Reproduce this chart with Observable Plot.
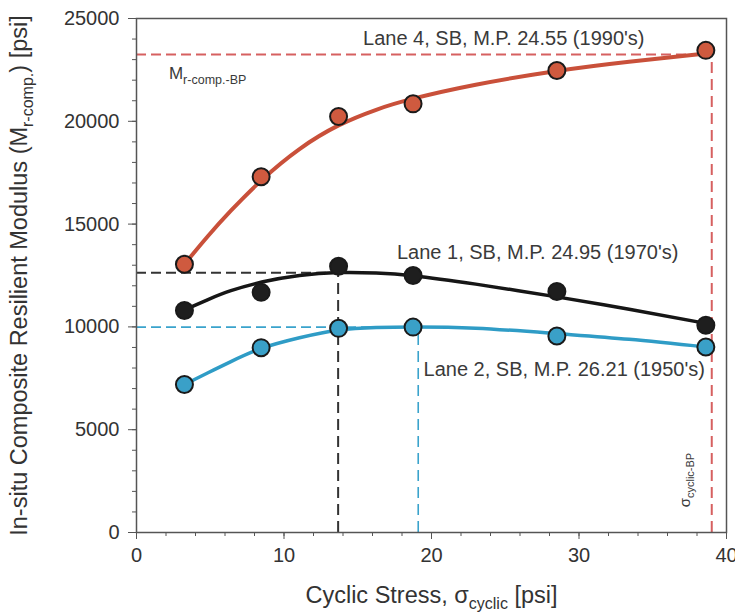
<!DOCTYPE html>
<html><head><meta charset="utf-8">
<script src="https://cdn.jsdelivr.net/npm/d3@7"></script>
<script src="https://cdn.jsdelivr.net/npm/@observablehq/plot@0.6"></script>
<style>body{margin:0;background:#fff;} svg{display:block}</style>
</head><body><div id="chart"></div>
<script>
// measured test points (cyclic stress, psi)
const stress = [3.25, 8.45, 13.7, 18.75, 28.5, 38.6];
const lane4Points = [13050, 17300, 20230, 20850, 22470, 23450];
const lane1Points = [10800, 11680, 12950, 12500, 11720, 10080];
const lane2Points = [7200, 8990, 9930, 9990, 9560, 9020];

// fitted curves
const curveX  = [3.25, 4.85, 6.4, 8.5, 11.05, 13.7, 16.25, 18.75, 23, 28.5, 33.4, 38.6];
const lane4Curve = [13050, 14420, 15650, 17150, 18650, 19800, 20560, 21100, 21780, 22450, 22900, 23300];
const lane1Curve = [10830, 11330, 11760, 12180, 12500, 12640, 12620, 12490, 12080, 11460, 10860, 10170];
const lane2Curve = [7200, 7770, 8310, 8960, 9470, 9850, 9975, 10000, 9940, 9675, 9400, 9025];

// break-point guide lines
const guideLanes = ["Lane 1", "Lane 2", "Lane 4"];
const guideStress = [13.67, 19.1, 39.0];
const guideModulus = [12630, 9990, 23250];

const laneNames = ["Lane 4", "Lane 1", "Lane 2"];
const laneLabels = ["Lane 4, SB, M.P. 24.55 (1990's)", "Lane 1, SB, M.P. 24.95 (1970's)", "Lane 2, SB, M.P. 26.21 (1950's)"];
const labelX = [24.9, 27.2, 29.0];
const labelY = [24030, 13630, 7930];

const xTicks = [0, 10, 20, 30, 40];
const yTicks = [0, 5000, 10000, 15000, 20000, 25000];
const xMinor = d3.range(0, 41, 2);
const yMinor = d3.range(0, 25001, 1000);

const colors = {
  "Lane 4": {line: "#c9503a", fill: "#cf5a3f", guide: "#d66060"},
  "Lane 1": {line: "#161616", fill: "#1e1e1e", guide: "#333333"},
  "Lane 2": {line: "#2f9cc6", fill: "#3aa0c8", guide: "#3aa3cc"}
};

const seriesPts = {"Lane 4": lane4Points, "Lane 1": lane1Points, "Lane 2": lane2Points};
const seriesCurve = {"Lane 4": lane4Curve, "Lane 1": lane1Curve, "Lane 2": lane2Curve};

const points = laneNames.flatMap(l => stress.map((x, i) => ({lane: l, x, y: seriesPts[l][i]})));
const curves = laneNames.flatMap(l => curveX.map((x, i) => ({lane: l, x, y: seriesCurve[l][i]})));
const guides = guideLanes.map((l, i) => ({lane: l, x: guideStress[i], y: guideModulus[i]}));
const labels = laneNames.map((l, i) => ({lane: l, text: laneLabels[i], x: labelX[i], y: labelY[i]}));

const bpLabels = [
  {text: "Mr-comp.-BP", x: 2.2, y: 22330},
  {text: "σcyclic-BP", x: 37.2, y: 2550}
];

const yLabel = "In-situ Composite Resilient Modulus (Mr-comp.) [psi]";
const xLabel = "Cyclic Stress, σcyclic [psi]";

const richParts = [
  {plain: yLabel, size: 23.5, parts: [["In-situ Composite Resilient Modulus (M", 0], ["r-comp.", 1], [") [psi]", 0]], sub: 16, shift: 6},
  {plain: xLabel, size: 23.5, parts: [["Cyclic Stress, σ", 0], ["cyclic", 1], [" [psi]", 0]], sub: 16, shift: 6},
  {plain: "Mr-comp.-BP", parts: [["M", 0], ["r-comp.-BP", 1]], sub: 12.5, shift: 5},
  {plain: "σcyclic-BP", parts: [["σ", 0], ["cyclic-BP", 1]], sub: 11, shift: 4}
];

const marks = [];
for (const g of guides) {
  const c = colors[g.lane].guide;
  const sw = g.lane === "Lane 2" ? 1.6 : 2;
  marks.push(Plot.ruleY([g], {y: "y", x1: 0, x2: "x", stroke: c, strokeWidth: sw, strokeDasharray: "10,5"}));
  marks.push(Plot.ruleX([g], {x: "x", y1: 0, y2: "y", stroke: c, strokeWidth: sw, strokeDasharray: "11,6"}));
}
for (const l of laneNames) {
  marks.push(Plot.line(curves.filter(d => d.lane === l), {x: "x", y: "y", stroke: colors[l].line, strokeWidth: l === "Lane 4" ? 4 : 3.5, curve: "natural"}));
}
for (const l of laneNames) {
  marks.push(Plot.dot(points.filter(d => d.lane === l), {x: "x", y: "y", r: 8.5, fill: colors[l].fill, stroke: "#1a1a1a", strokeWidth: 2}));
}
marks.push(Plot.text(labels, {x: "x", y: "y", text: "text", fontSize: 20, fill: "#3a3a3a", textAnchor: "middle", lineAnchor: "middle"}));
marks.push(Plot.text([bpLabels[0]], {x: "x", y: "y", text: "text", fontSize: 17, fill: "#3a3a3a", textAnchor: "start", lineAnchor: "middle"}));
marks.push(Plot.text([bpLabels[1]], {x: "x", y: "y", text: "text", fontSize: 15, fill: "#3a3a3a", textAnchor: "middle", lineAnchor: "middle", rotate: -90}));
marks.push(Plot.frame({stroke: "#555", strokeWidth: 1.5}));
marks.push(Plot.axisY({ticks: yMinor, tickSize: 4, tickFormat: () => "", label: null, stroke: "#555"}));
marks.push(Plot.axisY({ticks: yTicks, tickSize: 8, tickPadding: 9, tickFormat: "d", fontSize: 20, label: yLabel, labelAnchor: "center", labelOffset: 126, labelArrow: "none", stroke: "#555"}));
marks.push(Plot.axisX({ticks: xMinor, tickSize: 4, tickFormat: () => "", label: null, stroke: "#555"}));
marks.push(Plot.axisX({ticks: xTicks, tickSize: 7, tickPadding: 8, tickFormat: "d", fontSize: 20, label: xLabel, labelAnchor: "center", labelOffset: 70, labelArrow: "none", stroke: "#555"}));

const chart = Plot.plot({
  width: 735, height: 614,
  marginTop: 18, marginRight: 9, marginBottom: 82, marginLeft: 136,
  x: {domain: [0, 40]},
  y: {domain: [0, 25000]},
  style: {fontFamily: "'Liberation Sans', Arial, sans-serif", fontSize: "20px", color: "#333", background: "#fff"},
  marks
});

const NS = "http://www.w3.org/2000/svg";
for (const r of richParts) {
  chart.querySelectorAll("text").forEach(t => {
    if (t.textContent === r.plain) {
      t.textContent = "";
      if (r.size) t.setAttribute("font-size", r.size);
      let prev = 0;
      for (const [s, sub] of r.parts) {
        const ts = document.createElementNS(NS, "tspan");
        ts.textContent = s;
        if (sub) { ts.setAttribute("font-size", r.sub); ts.setAttribute("dy", r.shift); }
        else if (prev) ts.setAttribute("dy", -r.shift);
        prev = sub;
        t.appendChild(ts);
      }
    }
  });
}
document.getElementById("chart").appendChild(chart);
</script>
</body></html>
